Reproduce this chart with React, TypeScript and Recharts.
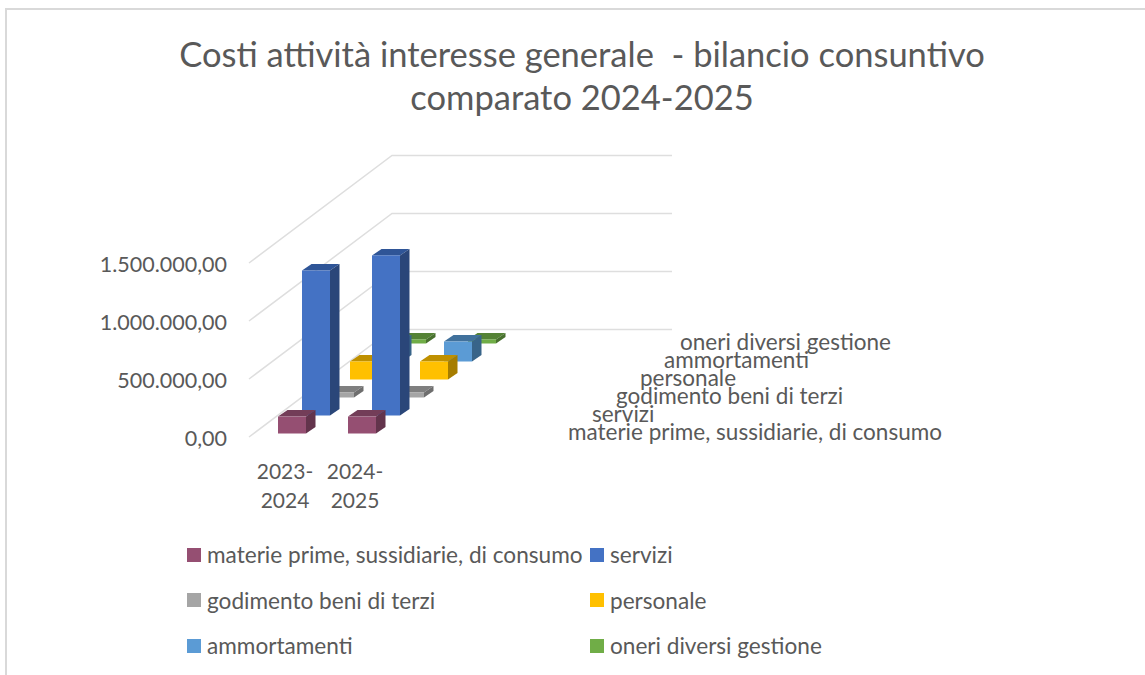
import { BarChart, Bar, XAxis, YAxis, CartesianGrid, Legend } from "recharts";

const FONT = "Lato, 'Open Sans', sans-serif";
const TEXT = "#595959";

// category and series values
const categories = ["2023-2024", "2024-2025"];
const seriesNames = [
  "materie prime, sussidiarie, di consumo",
  "servizi",
  "godimento beni di terzi",
  "personale",
  "ammortamenti",
  "oneri diversi gestione",
];
const materie = [146000, 146000];
const servizi = [1250000, 1380000];
const godimento = [43000, 43000];
const personale = [155000, 155000];
const ammortamenti = [172000, 172000];
const oneri = [35000, 35000];
const yTicks = [0, 500000, 1000000, 1500000];

const seriesValues = [materie, servizi, godimento, personale, ammortamenti, oneri];
const colors = ["#954F72", "#4472C4", "#A5A5A5", "#FFC000", "#5B9BD5", "#70AD47"];
const topColors = ["#733D58", "#2F5597", "#7F7F7F", "#BF9000", "#41719C", "#548235"];
const sideColors = ["#63344C", "#2A4679", "#6E6E6E", "#A67D00", "#386489", "#48702E"];

const data = categories.map((name, c) => {
  const row: any = { name };
  seriesNames.forEach((s, i) => (row[s] = seriesValues[i][c]));
  return row;
});

// Excel style fake 3D: every series sits one step further back on the floor
const STEP_X = 24;
const STEP_Y = 18;
const BOX_X = 9.5;
const BOX_Y = 6.5;
const FLOOR_Y = 3.5; // series 0 stands this far behind the front edge
const seriesLabelX = [568, 592, 616, 640, 664, 680];

function Box3D(props: any) {
  const { x, y, width, height, depth } = props;
  const fx = x + depth * STEP_X;
  const fy = y - depth * STEP_Y - FLOOR_Y;
  const r = fx + width;
  const b = fy + height;
  return (
    <g>
      <polygon
        points={`${fx},${fy} ${fx + BOX_X},${fy - BOX_Y} ${r + BOX_X},${fy - BOX_Y} ${r},${fy}`}
        fill={topColors[depth]}
      />
      <polygon
        points={`${r},${fy} ${r + BOX_X},${fy - BOX_Y} ${r + BOX_X},${b - BOX_Y} ${r},${b}`}
        fill={sideColors[depth]}
      />
      <rect x={fx} y={fy} width={width} height={height} fill={colors[depth]} />
    </g>
  );
}

// floor and wall lines: run back diagonally, then along the back wall
function WallLine(props: any) {
  const { x1, y1 } = props;
  const start = x1 - 8;
  return (
    <polyline
      key={props.key}
      points={`${start},${y1} ${start + 143},${y1 - 107.5} ${start + 423},${y1 - 107.5}`}
      fill="none"
      stroke="#DEDEDE"
      strokeWidth={1.5}
    />
  );
}

function CategoryTick({ x, payload }: any) {
  const parts = payload.value.split("-");
  return (
    <text textAnchor="middle" fill={TEXT} fontSize={21} fontFamily={FONT}>
      <tspan x={x - 7} y={479}>{parts[0]}-</tspan>
      <tspan x={x - 7} y={508}>{parts[1]}</tspan>
    </text>
  );
}

function LegendGrid({ payload }: any) {
  const items = [...(payload ?? [])].sort(
    (a: any, b: any) => seriesNames.indexOf(a.value) - seriesNames.indexOf(b.value)
  );
  return (
    <div
      style={{
        display: "grid",
        gridTemplateColumns: "403px 280px",
        gridAutoRows: "45.5px",
        fontFamily: FONT,
        fontSize: 22.6,
        color: TEXT,
      }}
    >
      {items.map((it: any) => (
        <div key={it.value} style={{ display: "flex", alignItems: "center", whiteSpace: "nowrap" }}>
          <span style={{ width: 14, height: 14, background: it.color, marginRight: 6, flex: "none" }} />
          {it.value}
        </div>
      ))}
    </div>
  );
}

export default function App() {
  const order = seriesNames.map((_, i) => i).reverse(); // back series first
  return (
    <div style={{ position: "absolute", left: 0, top: 0, width: 1145, height: 675, background: "#fff", overflow: "hidden" }}>
      <div style={{ position: "absolute", left: 5, top: 8, width: 1200, height: 700, border: "2px solid #D9D9D9", boxSizing: "border-box" }} />
      <div style={{ position: "absolute", left: 0, top: 0 }}>
        <BarChart
          width={1145}
          height={675}
          data={data}
          margin={{ top: 263, right: 748, bottom: 168, left: 100 }}
          barCategoryGap={0}
        >
          <text textAnchor="middle" fill={TEXT} fontSize={34.5} fontFamily={FONT} style={{ whiteSpace: "pre" }}>
            <tspan x={582} y={67}>Costi attività interesse generale  - bilancio consuntivo</tspan>
            <tspan x={582} y={110}>comparato 2024-2025</tspan>
          </text>
          <CartesianGrid vertical={false} horizontal={WallLine} />
          {order.map((i) => (
            <XAxis
              key={i}
              xAxisId={i}
              dataKey="name"
              hide={i !== 0}
              axisLine={false}
              tickLine={false}
              tick={CategoryTick}
              interval={0}
              height={70}
            />
          ))}
          <YAxis
            width={157}
            domain={[0, 1500000]}
            ticks={yTicks}
            axisLine={false}
            tickLine={false}
            tick={({ y, payload }: any) => (
              <text x={227} y={y + 9} textAnchor="end" fill={TEXT} fontSize={21.5} fontFamily={FONT}>
                {payload.value.toLocaleString("it-IT", { minimumFractionDigits: 2 })}
              </text>
            )}
          />
          {order.map((i) => (
            <Bar
              key={i}
              xAxisId={i}
              dataKey={seriesNames[i]}
              fill={colors[i]}
              barSize={28}
              isAnimationActive={false}
              shape={(p: any) => <Box3D {...p} depth={i} />}
            />
          ))}
          {seriesNames.map((s, i) => (
            <text key={s} x={seriesLabelX[i]} y={440 - i * STEP_Y} fill={TEXT} fontSize={22.5} fontFamily={FONT}>
              {s}
            </text>
          ))}
          <Legend
            layout="vertical"
            content={<LegendGrid />}
            wrapperStyle={{ position: "absolute", left: 187, top: 532, width: 700, height: 0, bottom: "auto" }}
          />
        </BarChart>
      </div>
    </div>
  );
}
